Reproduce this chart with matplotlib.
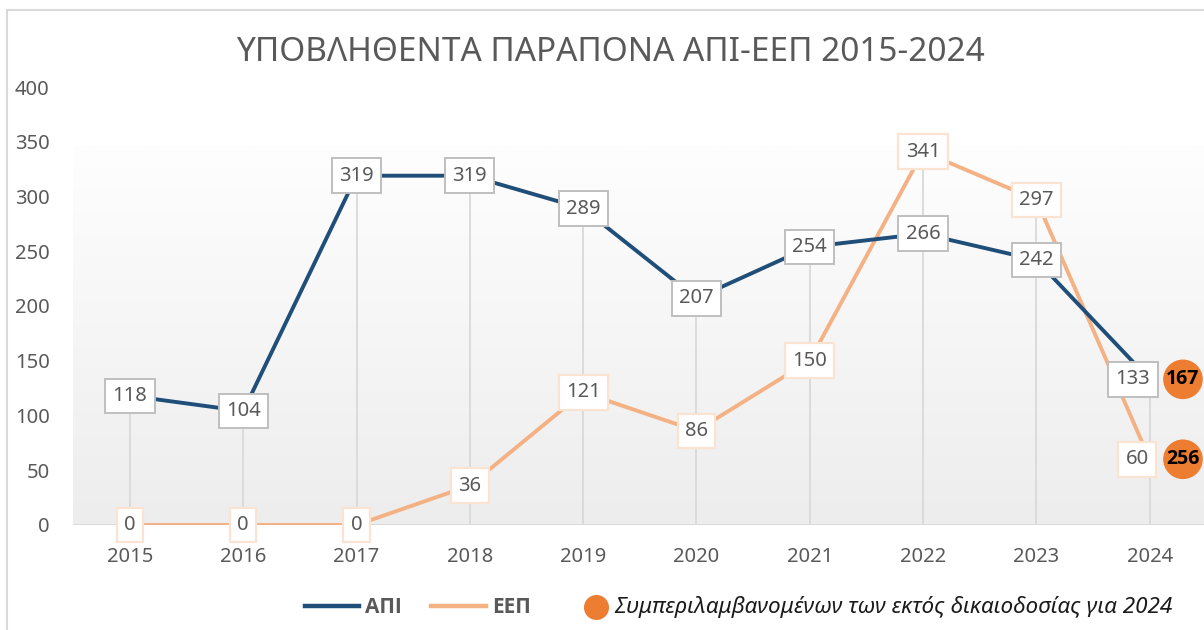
import numpy as np
import matplotlib as mpl
mpl.use('Agg')
import matplotlib.pyplot as plt
from matplotlib.lines import Line2D
from matplotlib.patches import Rectangle

plt.rcParams['font.family'] = ['Noto Sans', 'DejaVu Sans']

# data
years = ['2015', '2016', '2017', '2018', '2019', '2020', '2021', '2022', '2023', '2024']
api = [118, 104, 319, 319, 289, 207, 254, 266, 242, 133]
eep = [0, 0, 0, 36, 121, 86, 150, 341, 297, 60]
# totals incl. those outside jurisdiction, 2024 only
api_2024_total = 167
eep_2024_total = 256

title = 'ΥΠΟΒΛΗΘΕΝΤΑ ΠΑΡΑΠΟΝΑ ΑΠΙ-ΕΕΠ 2015-2024'
note = 'Συμπεριλαμβανομένων των εκτός δικαιοδοσίας για 2024'

c_api = '#1f4e79'
c_eep = '#f4b183'
c_dot = '#ed7d31'
c_txt = '#595959'
c_grid = '#d9d9d9'
bold_font = ['Open Sans', 'DejaVu Sans']

fig = plt.figure(figsize=(12.04, 6.3), dpi=100)
ax = fig.add_axes([0.0609, 0.1667, 0.9391, 0.6952])
x = np.arange(len(years))

# gradient plot-area background
grad = np.linspace(0, 1, 256).reshape(-1, 1)
cmap = mpl.colors.LinearSegmentedColormap.from_list('bg', ['#ededed', '#fefefe'])
ax.imshow(grad, cmap=cmap, aspect='auto', origin='lower',
          extent=(-0.5, 9.48, 0, 347), zorder=0)

# drop lines
tops = np.maximum(api, eep)
ax.vlines(x, 0, tops, color=c_grid, lw=1.3, zorder=1)
ax.axhline(0, color=c_grid, lw=1.3, zorder=1)

ax.plot(x, eep, color=c_eep, lw=2.8, zorder=2, solid_capstyle='round')
ax.plot(x, api, color=c_api, lw=2.8, zorder=3, solid_capstyle='round')

# data labels; the last ones are pushed left so they stay inside the chart
def label(vals, ec, lw, z):
    for xi, v in zip(x, vals):
        dx = 0
        if xi == x[-1]:
            dx = -12 if v >= 100 else -9
        ax.annotate(str(v), xy=(xi, v), xytext=(dx, 0), textcoords='offset points',
                    ha='center', va='center', fontsize=14.5, color=c_txt, zorder=z,
                    bbox=dict(boxstyle='square,pad=0.36', fc='white', ec=ec, lw=lw))

label(eep, '#fbe3d2', 1.6, 4)
label(api, '#bfbfbf', 1.4, 5)

for v, t in [(api[-1], api_2024_total), (eep[-1], eep_2024_total)]:
    ax.annotate(str(t), xy=(x[-1], v), xytext=(24, 0), textcoords='offset points',
                ha='center', va='center', fontsize=14, fontweight='bold', color='black',
                family=bold_font,
                bbox=dict(boxstyle='circle,pad=0.16', fc=c_dot, ec='none'),
                annotation_clip=False, zorder=6)

ax.set_xlim(-0.5, 9.48)
ax.set_ylim(0, 400)
ax.set_xticks(x)
ax.set_xticklabels(years)
ax.set_yticks(np.arange(0, 401, 50))
ax.tick_params(axis='both', length=0, labelsize=14.5, labelcolor=c_txt)
ax.tick_params(axis='y', pad=17)
ax.tick_params(axis='x', pad=16)
for s in ax.spines.values():
    s.set_visible(False)
ax.set_facecolor('none')

fig.text(0.507, 0.917, title, ha='center', va='center', fontsize=24, color=c_txt)

# legend for the two series
h1 = [Line2D([], [], color=c_api, lw=3.2), Line2D([], [], color=c_eep, lw=3.2)]
leg1 = fig.legend(h1, ['ΑΠΙ', 'ΕΕΠ'], loc='center', bbox_to_anchor=(0.347, 0.036),
                  ncol=2, frameon=False, handlelength=2.6, handletextpad=0.3,
                  columnspacing=1.4, prop={'size': 15, 'weight': 'bold', 'family': bold_font})
for t in leg1.get_texts():
    t.set_color(c_txt)

# note entry for the orange circles
fig.add_artist(Line2D([596 / 1204], [0.036], marker='o', ls='', ms=17, color=c_dot,
                      transform=fig.transFigure))
fig.text(614 / 1204, 0.036, note, ha='left', va='center', fontsize=16.2,
         style='italic', color='#1a1a1a')

# chart border
fig.add_artist(Rectangle((0.006, -0.1), 1.1, 1.084, transform=fig.transFigure,
                         fill=False, ec=c_grid, lw=1.5))

fig.savefig('out.png', dpi=100)
